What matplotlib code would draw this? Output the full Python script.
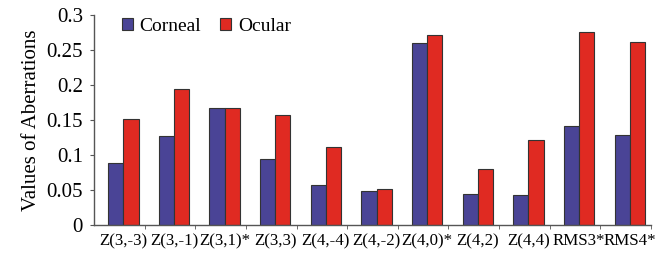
import numpy as np
import matplotlib
matplotlib.use("Agg")
import matplotlib.pyplot as plt
from matplotlib.ticker import FixedLocator

# values
categories = ["Z(3,-3)", "Z(3,-1)", "Z(3,1)*", "Z(3,3)", "Z(4,-4)", "Z(4,-2)",
              "Z(4,0)*", "Z(4,2)", "Z(4,4)", "RMS3*", "RMS4*"]
corneal = [0.088, 0.127, 0.167, 0.094, 0.057, 0.048, 0.260, 0.045, 0.043, 0.142, 0.129]
ocular = [0.151, 0.194, 0.167, 0.157, 0.112, 0.051, 0.272, 0.080, 0.122, 0.275, 0.261]
yticks = [0, 0.05, 0.1, 0.15, 0.2, 0.25, 0.3]
ytick_labels = ["0", "0.05", "0.1", "0.15", "0.2", "0.25", "0.3"]

plt.rcParams['font.family'] = ['Liberation Serif', 'DejaVu Serif']

fig = plt.figure(figsize=(6.66, 2.54), dpi=100)
ax = fig.add_axes([94 / 666, 1 - 225 / 254, 557 / 666, 210 / 254])

x = np.arange(len(categories))
w = 0.3
shift = 0.08
ax.bar(x + shift - w / 2, corneal, w, color='#4a4496', edgecolor='#333333',
       linewidth=0.8, label='Corneal', zorder=2)
ax.bar(x + shift + w / 2, ocular, w, color='#e02a22', edgecolor='#333333',
       linewidth=0.8, label='Ocular', zorder=2)

ax.set_xlim(-0.5, len(categories) - 0.5)
ax.set_ylim(0, 0.3)
ax.set_xticks(x + shift)
ax.set_xticklabels(categories, fontsize=12.2)
ax.xaxis.set_minor_locator(FixedLocator(x + 0.5))
ax.tick_params(axis='x', which='major', length=0, pad=6)
ax.tick_params(axis='x', which='minor', length=3, color='#555555')
ax.set_yticks(yticks)
ax.set_yticklabels(ytick_labels, fontsize=15)
ax.tick_params(axis='y', length=3, color='#555555', pad=5)

ax.set_ylabel('Values of Aberrations', fontsize=15, labelpad=4)

for s in ['top', 'right']:
    ax.spines[s].set_visible(False)
for s in ['left', 'bottom']:
    ax.spines[s].set_color('#555555')
    ax.spines[s].set_linewidth(1)

ax.legend(loc='upper left', bbox_to_anchor=(0.05, 0.985), ncol=2, frameon=False,
          fontsize=14, handlelength=0.55, handleheight=0.55, handletextpad=0.35,
          columnspacing=1.0, borderpad=0, borderaxespad=0)

fig.savefig('out.png', dpi=100)
